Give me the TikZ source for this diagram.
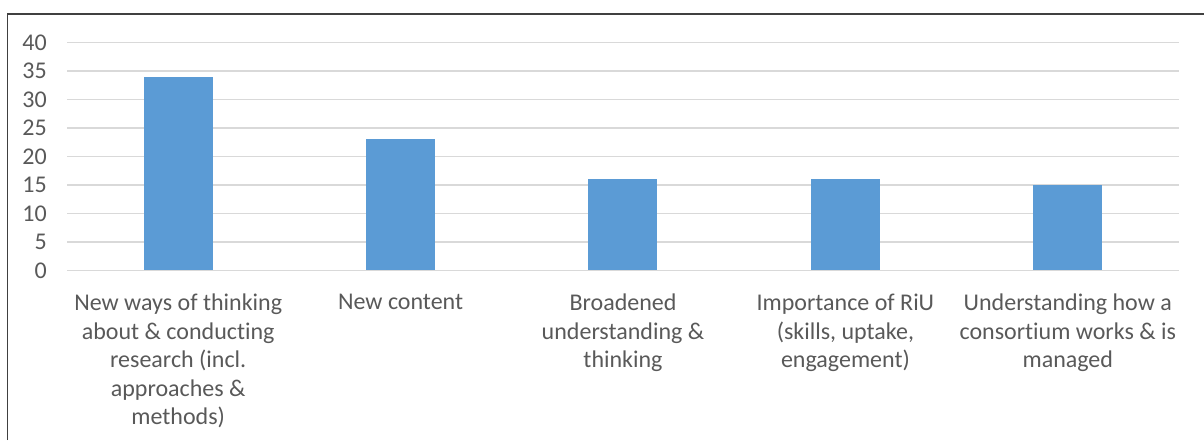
\documentclass[tikz,border=0pt]{standalone}
\usepackage{fontspec}
\setmainfont[Ligatures=NoCommon]{Carlito}
\usepackage{xcolor}
\definecolor{barblue}{HTML}{5B9BD5}
\definecolor{gridgray}{HTML}{D9D9D9}
\definecolor{labelgray}{HTML}{595959}
\definecolor{framegray}{HTML}{404040}

\begin{document}
\begin{tikzpicture}[x=1pt,y=1pt,
		font=\fontsize{24}{28.5}\selectfont,
		gridline/.style={gridgray,line width=1.5pt},
		bar/.style={fill=barblue},
		ticklabel/.style={labelgray,anchor=east,inner sep=0pt},
		catlabel/.style={labelgray,anchor=north,inner sep=0pt,align=center}]
			\useasboundingbox (0,0) rectangle (1204,440);
			% Frame
			\draw [framegray,line width=1.5pt] (7.5,0) -- (7.5,426) -- (1204,426);
			% Gridlines and axis values
			\foreach \v in {0,5,...,40} {
				\draw [gridline] (67,169.7+5.69*\v) -- (1179,169.7+5.69*\v);
				\node [ticklabel] (tick\v) at (47,169.7+5.69*\v) {\v};
			}
			% Bars
			\foreach \i/\val in {0/34,1/23,2/16,3/16,4/15} {
				\fill [bar] (143.5+222.4*\i,169.7) rectangle (212.5+222.4*\i,169.7+5.69*\val);
			}
			% Category labels
			\node [catlabel] (cat1) at (178.2,146) {New ways of thinking\\about \& conducting\\research (incl.\\approaches \&\\methods)};
			\node [catlabel] (cat2) at (400.6,146) {New content};
			\node [catlabel] (cat3) at (623.0,146) {Broadened\\understanding \&\\thinking};
			\node [catlabel] (cat4) at (845.4,146) {Importance of RiU\\(skills, uptake,\\engagement)};
			\node [catlabel] (cat5) at (1067.8,146) {Understanding how a\\consortium works \& is\\managed};
		\end{tikzpicture}
\end{document}
